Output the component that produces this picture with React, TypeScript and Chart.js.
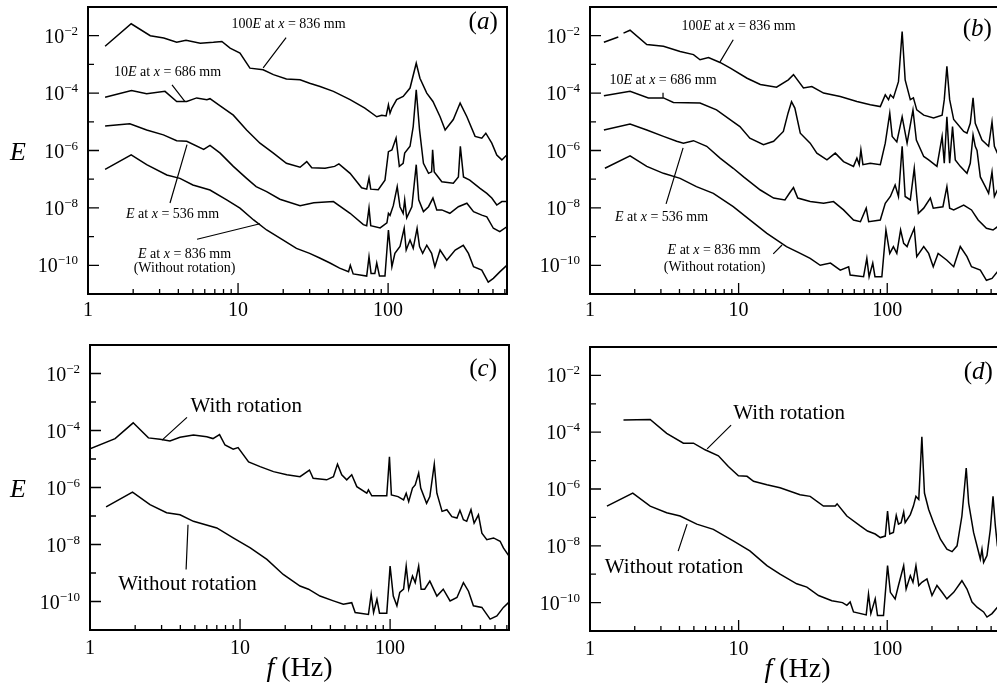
import React, { useEffect, useRef } from "react";
import { Chart, registerables } from "chart.js";

Chart.register(...registerables);

type Pt = [number, number | null];

// ---------- (a) spectra ----------
const curveA1: Pt[] = [[1.3,4.3e-3],[1.94,2.6e-2],[2.6,1e-2],[3.2,8.3e-3],[3.9,5.9e-3],[4.5,6.9e-3],[5.6,5.5e-3],[6.85,5.9e-3],[7.8,6.3e-3],[8.85,3.7e-3],[10.3,2.5e-3],[12,7.4e-4],[14.7,6.5e-4],[17.2,4.4e-4],[21,3.1e-4],[25.9,2.9e-4],[30,2.2e-4],[35.2,1.7e-4],[43.2,1.15e-4],[55.8,5.9e-5],[70,3e-5],[84,1.5e-5],[90.7,1.7e-5],[97,1.6e-5],[100.5,3.9e-5],[103,2e-5],[106,3e-5],[114,5.9e-5],[126,7.6e-5],[140,1.5e-4],[154,1.1e-3],[163,3.3e-4],[181,1e-4],[199,5.1e-5],[222,1.5e-5],[240,5.2e-6],[272,1.2e-5],[302,4.5e-5],[335,1.5e-5],[380,3.1e-6],[421,2.7e-6],[448,4e-6],[491,1.8e-6],[530,7e-7],[573,4.7e-7],[618,7e-7]];
const curveA2: Pt[] = [[1.3,7.2e-5],[1.95,1.23e-4],[2.46,9.5e-5],[3.26,1.15e-4],[3.9,5.1e-5],[4.55,5.1e-5],[5.3,6.8e-5],[6.2,5.9e-5],[6.5,6.4e-5],[7.6,3.6e-5],[9.3,1.7e-5],[11.4,5.2e-6],[14,1.8e-6],[17.2,8.1e-7],[21,3.6e-7],[25.9,2.6e-7],[28.7,4.1e-7],[31,2.5e-7],[38,2.4e-7],[44,2.8e-7],[47,3.4e-7],[55.8,1.6e-7],[66.6,5e-8],[72,4.5e-8],[74.6,1.1e-7],[76.6,4.5e-8],[86,4.3e-8],[95.3,9.3e-8],[100.5,9.1e-7],[106,1.05e-6],[113,2.7e-6],[118.8,2.8e-7],[126,3.6e-7],[129,8.1e-7],[140,1.4e-6],[147,6.8e-6],[154,1.3e-4],[162,5.2e-6],[172,3.6e-7],[186,1.6e-7],[195,1.8e-7],[198,1.05e-6],[203,1.8e-7],[228,8.1e-8],[272,7.2e-8],[294,1.2e-7],[303,1.4e-6],[318,1.2e-7],[350,9.3e-8],[410,4.8e-8],[455,3.2e-8],[491,2.2e-8],[530,1.26e-8],[573,1.66e-8],[618,1.66e-8]];
const curveA3: Pt[] = [[1.3,7.2e-6],[1.9,8.5e-6],[2.46,5.2e-6],[3.18,3.5e-6],[3.9,2.2e-6],[4.55,2.1e-6],[5.9,1.1e-6],[6.5,1.5e-6],[7.6,8.1e-7],[9.3,2.8e-7],[11.4,1.07e-7],[13.2,5.5e-8],[15.5,3.7e-8],[19,2e-8],[25.9,1.2e-8],[32,1.5e-8],[43.2,1.66e-8],[55.8,6.5e-9],[68.4,2.6e-9],[72,2.4e-9],[74.6,1e-8],[76.6,2.4e-9],[88.5,2e-9],[98.2,3e-9],[100.5,6.5e-9],[103,5.5e-9],[108.3,1.2e-8],[115,5.5e-8],[120,1.1e-8],[126,6.5e-9],[129,1.9e-8],[133,4.5e-9],[144,1.1e-8],[154,3.2e-7],[160,1.9e-8],[172,7.4e-9],[186,1.1e-8],[199,2.2e-8],[211,8.5e-9],[228,8.5e-9],[258,6.5e-9],[294,1.1e-8],[335,1.45e-8],[371,7.4e-9],[421,5.6e-9],[455,4.9e-9],[503,1.95e-9],[555,1.5e-9],[618,2.2e-9]];
const curveA4: Pt[] = [[1.3,2.2e-7],[1.94,7.1e-7],[2.46,3.2e-7],[3.35,1.4e-7],[4.1,1.07e-7],[5,6.3e-8],[6.5,4.2e-8],[8.4,1.9e-8],[10.3,9.8e-9],[12.7,3.8e-9],[15.5,1.7e-9],[20,7.6e-10],[24.5,3.9e-10],[30,2.6e-10],[35,1.8e-10],[41,1.2e-10],[47.5,8e-11],[54.5,6e-11],[56,1e-10],[58.5,5e-11],[72,4.2e-11],[74.6,2e-10],[77,5.2e-11],[81.6,5.2e-11],[84,1.2e-10],[87.6,4.2e-11],[95.3,4.2e-11],[100.5,1.7e-9],[106,8.9e-11],[111,2.6e-10],[120,4.5e-10],[128,1.95e-9],[132,3.4e-10],[140,7.6e-10],[147,3.9e-10],[156,1.95e-9],[162,4.5e-10],[170,2.6e-10],[181,5e-10],[195,2.6e-10],[205,8.9e-11],[222,3.4e-10],[246,1.5e-10],[280,3.4e-10],[317,5e-10],[343,2.6e-10],[371,8.9e-11],[421,6.8e-11],[465,2.6e-11],[503,3.5e-11],[555,5.9e-11],[618,1e-10]];

// ---------- (b) spectra ----------
const curveB1: Pt[] = [[1.24,5.9e-3],[1.55,9e-3],[1.6,null],[1.68,1.23e-2],[1.86,1.55e-2],[2.41,4.9e-3],[3.12,4.3e-3],[4.04,2.8e-3],[4.97,2.2e-3],[5.5,1.45e-3],[6.27,1.74e-3],[7.5,1.17e-3],[8.8,7.4e-4],[11.4,3.3e-4],[14,2e-4],[18,1.6e-4],[21.6,2.9e-4],[23.4,4.4e-4],[27.3,1.5e-4],[31.1,1.7e-4],[37.3,1e-4],[48.3,7.6e-5],[62.5,5.1e-5],[76.9,3.9e-5],[89.8,3.4e-5],[97,8.7e-5],[102,5.9e-5],[105,8.7e-5],[110,6.8e-5],[119,2.5e-4],[126,1.4e-2],[132,2.9e-4],[143,5.9e-5],[150,6.8e-5],[158,2.6e-5],[176,1.7e-5],[205,1.35e-5],[234,1.7e-5],[242,5.9e-5],[252,8.5e-4],[263,5.9e-5],[280,1.2e-5],[327,4.6e-6],[344,4e-6],[362,8.9e-6],[378,6.8e-5],[391,8.9e-6],[434,2.3e-6],[481,1.4e-6],[507,1e-5],[526,1.4e-6],[551,8.1e-7],[620,6e-7]];
const curveB2: Pt[] = [[1.24,8.1e-5],[1.86,1.15e-4],[2.47,6.8e-5],[3.12,6.8e-5],[3.64,4.7e-5],[5.5,4.5e-5],[7.1,2.6e-5],[9.2,1e-5],[10.2,6.8e-6],[11.9,2.7e-6],[14.7,1.6e-6],[17.2,2.1e-6],[20,4.6e-6],[21.5,2e-5],[22.7,5e-5],[23.9,3e-5],[26,4e-6],[30.3,1.8e-6],[33.6,8.1e-7],[39.3,4.7e-7],[44.7,8.1e-7],[50.8,4.1e-7],[59.3,2.8e-7],[62.5,5.4e-7],[64.8,3.2e-7],[66.5,1.05e-6],[68.6,3.2e-7],[76.9,3.6e-7],[89.8,3.2e-7],[97,1.8e-6],[104,2e-5],[108,3.1e-6],[116,2e-6],[126,1.5e-5],[136,1.8e-6],[149,2.6e-5],[157,2.3e-6],[176,6.2e-7],[190,4.7e-7],[216,2.8e-7],[234,3.1e-6],[242,3.6e-7],[252,1.5e-5],[263,3.6e-7],[275,6.8e-6],[287,4.7e-7],[310,2.8e-7],[344,1.6e-7],[362,3.6e-7],[378,3.5e-6],[391,1.4e-6],[402,1e-6],[423,1.2e-7],[457,5.5e-8],[481,3.2e-8],[507,1.8e-7],[526,2.5e-8],[551,4.2e-8],[620,3e-8]];
const curveB3: Pt[] = [[1.24,5.2e-6],[1.86,8.3e-6],[2.41,5.2e-6],[3.12,3.1e-6],[3.83,2.1e-6],[4.25,1.8e-6],[4.97,2.2e-6],[6.1,1.4e-6],[7.5,5.4e-7],[9.2,2.4e-7],[10.8,1.2e-7],[14,4.2e-8],[17.2,2.2e-8],[20.5,1.9e-8],[22.2,3.5e-8],[23.4,5.1e-8],[25,2.2e-8],[30.3,1.66e-8],[37.3,1.45e-8],[43.5,1.66e-8],[50.8,8.5e-9],[59.3,3.8e-9],[66,3.3e-9],[72.2,9.8e-9],[75,3.3e-9],[89.8,3.8e-9],[97,1.45e-8],[105,2.5e-8],[113,6.3e-8],[119,2.5e-8],[126,1.4e-6],[132,2.5e-8],[143,1.9e-8],[152,2.4e-7],[158,2.5e-8],[162,6.5e-9],[176,9.8e-9],[195,2.2e-8],[204,9.8e-9],[237,1.1e-8],[252,5.5e-8],[263,9.8e-9],[280,8.5e-9],[327,1.26e-8],[369,8.5e-9],[409,3.8e-9],[465,1.95e-9],[515,1.7e-9],[551,2.2e-9],[620,2.5e-9]];
const curveB4: Pt[] = [[1.26,2.4e-7],[1.86,6.5e-7],[2.41,2.8e-7],[3.12,1.6e-7],[4.04,1.07e-7],[5.2,5.5e-8],[6.76,3.2e-8],[9.2,1.1e-8],[11.9,3.8e-9],[15.5,1.3e-9],[21,4.5e-10],[26,2.6e-10],[30.3,1.74e-10],[35.4,1e-10],[41.5,1.2e-10],[48.3,6.8e-11],[55,8.9e-11],[56.3,4.6e-11],[69.3,4e-11],[72.9,1.74e-10],[75.5,4e-11],[79.9,1.2e-10],[82.7,4e-11],[92,4e-11],[98,1.7e-9],[104,2.6e-10],[110,4.5e-10],[116,2.6e-10],[123,1.7e-9],[129,5.8e-10],[136,4.5e-10],[141,7.6e-10],[152,1.95e-9],[158,2e-10],[176,4.5e-10],[190,2.6e-10],[204,8.9e-11],[220,2.6e-10],[252,1.5e-10],[280,8.9e-11],[310,4.5e-10],[344,2e-10],[369,8.9e-11],[423,6.8e-11],[465,3e-11],[507,3.5e-11],[551,5.9e-11],[620,9e-11]];

// ---------- (c) spectra ----------
const curveC1: Pt[] = [[1,2.3e-5],[1.47,5.2e-5],[1.94,1.86e-4],[2.45,5.5e-5],[2.93,4.9e-5],[3.41,4.3e-5],[3.98,5.8e-5],[4.89,6.9e-5],[6,6e-5],[6.6,5.2e-5],[7.3,7.2e-5],[7.94,3.1e-5],[9,2.2e-5],[9.7,2.5e-5],[11.4,7.9e-6],[13.6,5.4e-6],[16.7,3.6e-6],[20.5,2.8e-6],[25.1,2.4e-6],[29,4.1e-6],[30.7,2.1e-6],[37.8,1.86e-6],[41.9,2.4e-6],[44.6,6.6e-6],[47.6,2.8e-6],[51.4,1.86e-6],[55.5,2.8e-6],[60,1.07e-6],[69.9,6.3e-7],[71.7,8.3e-7],[75.5,5.1e-7],[95,5.1e-7],[99,1.2e-5],[102,5.5e-7],[113,4.8e-7],[123,3.7e-7],[128,6.3e-7],[133,3.2e-7],[141,9.5e-7],[147,1.23e-6],[155,3.2e-6],[160,9.5e-7],[175,2.8e-7],[184,4.8e-7],[197,6.6e-6],[205,6.3e-7],[222,1.45e-7],[239,1.66e-7],[258,9.5e-8],[279,8.5e-8],[292,1.58e-7],[308,7.4e-8],[324,6.5e-8],[346,1.66e-7],[363,5.6e-8],[388,1.1e-7],[409,2.5e-8],[441,1.48e-8],[489,1.7e-8],[541,1.3e-8],[569,7.6e-9],[620,3.9e-9]];
const curveC2: Pt[] = [[1.28,2.1e-7],[1.92,6.9e-7],[2.51,2.5e-7],[3.24,1.3e-7],[3.98,1.1e-7],[4.89,6.5e-8],[7,3.8e-8],[9,1.7e-8],[11.7,7.6e-9],[15.1,3e-9],[19.4,8.9e-10],[25.1,3.5e-10],[28.6,2.7e-10],[34.1,1.55e-10],[41.9,1.05e-10],[48.8,8e-11],[55.5,9.1e-11],[58.5,4.1e-11],[71.7,3.5e-11],[74.8,1.8e-10],[77.6,4.1e-11],[81.7,1.2e-10],[85,3.9e-11],[95,3.9e-11],[100,1.74e-9],[105,1.55e-10],[111,7.1e-11],[116,2.1e-10],[123,2.7e-10],[128,1.74e-9],[133,2.7e-10],[141,7.8e-10],[147,4.6e-10],[155,1.74e-9],[161,2.7e-10],[170,2.7e-10],[184,5.2e-10],[205,1.55e-10],[226,2.7e-10],[251,1.05e-10],[279,1.38e-10],[308,4.6e-10],[333,2.3e-10],[359,7.1e-11],[409,6.2e-11],[464,2.4e-11],[515,3.1e-11],[569,6.2e-11],[615,9.1e-11]];

// ---------- (d) spectra ----------
const curveD1: Pt[] = [[1.68,2.7e-4],[2.54,2.8e-4],[3.28,9.1e-5],[4.25,4.1e-5],[4.97,4.1e-5],[5.95,2.4e-5],[7.31,1.48e-5],[8.53,6.2e-6],[9.97,2.9e-6],[11.4,2.8e-6],[12.6,1.86e-6],[15.5,1.4e-6],[19,1.1e-6],[25.9,6.3e-7],[30.3,5.5e-7],[37.2,2.5e-7],[44.7,2.5e-7],[46,3e-7],[53.5,1.12e-7],[65.8,5e-8],[73.7,3.3e-8],[83,2.6e-8],[89.8,1.95e-8],[97,2.2e-8],[100.5,1.66e-7],[104,2.6e-8],[110,2.95e-8],[115,1.17e-7],[119,5.8e-8],[124,6.5e-8],[129,1.55e-7],[132,6.5e-8],[143,1.26e-7],[150,2.5e-7],[156,5.5e-7],[163,4.3e-7],[171,6.9e-5],[178,7.2e-7],[190,1.9e-7],[205,6.5e-8],[228,1.7e-8],[252,7.6e-9],[273,6.2e-9],[295,1e-8],[318,1.12e-7],[340,5.5e-6],[353,3.2e-7],[381,2.95e-8],[412,5.9e-9],[423,3.4e-9],[434,7.6e-9],[445,2.6e-9],[469,4.5e-9],[494,3.8e-8],[515,5.5e-7],[534,5e-8],[551,1e-8],[600,3e-9]];
const curveD2: Pt[] = [[1.3,2.5e-7],[1.94,7.2e-7],[2.54,2.5e-7],[3.28,1.45e-7],[4.04,1.12e-7],[5.23,5.8e-8],[6.76,3.8e-8],[9.2,1.48e-8],[11.9,6.6e-9],[15.5,2e-9],[19,1e-9],[24.6,4.6e-10],[28.8,3.5e-10],[34.5,1.78e-10],[42.4,1.17e-10],[50,1e-10],[53.5,8e-11],[56.3,1.05e-10],[59.3,4.7e-11],[72.2,3.7e-11],[74.8,2e-10],[77.6,4.1e-11],[83,1.35e-10],[86,3.5e-11],[94.4,3.5e-11],[100.5,2e-9],[105,2.3e-10],[113,1.35e-10],[119,4e-10],[129,2e-9],[134,3e-10],[143,8.9e-10],[149,5.2e-10],[156,2e-9],[163,4e-10],[171,5.2e-10],[185,6.8e-10],[200,1.78e-10],[216,4e-10],[234,2.3e-10],[252,1.35e-10],[280,2.3e-10],[318,5.9e-10],[344,3e-10],[372,1.05e-10],[402,6.9e-11],[445,4.7e-11],[469,3.1e-11],[507,4.1e-11],[551,6.9e-11],[600,1e-10]];

// ---------- axes ----------
const xTickValues = [1,2,3,4,5,6,7,8,9,10,20,30,40,50,60,70,80,90,100,200,300,400,500,600];
const xLabelValues = [1, 10, 100];
const yTickValues = [1e-1,1e-2,1e-3,1e-4,1e-5,1e-6,1e-7,1e-8,1e-9,1e-10,1e-11];
const yLabelValues = [1e-2, 1e-4, 1e-6, 1e-8, 1e-10];
const yLabelExponents = ["\u22122", "\u22124", "\u22126", "\u22128", "\u221210"];
const X_MIN = 1, X_MAX = 620, Y_MIN = 1e-11, Y_MAX = 1e-1;

const FONT = "'Liberation Serif', 'Times New Roman', Times, serif";

type Seg = { t: string; it?: boolean };
type Note = { f: number; e: number; size: number; segs: Seg[] };
type Leader = [number, number, number, number];

const lab = (pre: string, x: string): Seg[] => [
  ...(pre ? [{ t: pre }] : []),
  { t: "E", it: true }, { t: " at " }, { t: "x", it: true }, { t: ` = ${x} mm` },
];

const notesA: Note[] = [
  { f: 21.7, e: 2.4e-2, size: 14, segs: lab("100", "836") },
  { f: 3.39, e: 5.5e-4, size: 14, segs: lab("10", "686") },
  { f: 3.66, e: 6.2e-9, size: 14, segs: lab("", "536") },
  { f: 4.4, e: 2.5e-10, size: 14, segs: lab("", "836") },
  { f: 4.4, e: 8e-11, size: 14, segs: [{ t: "(Without rotation)" }] },
];
const leadersA: Leader[] = [[20.9,8.5e-3,14.7,7.6e-4],[3.63,1.95e-4,4.43,5e-5],[3.52,1.48e-8,4.57,1.6e-6],[5.33,8.1e-10,14,2.8e-9]];

const notesB: Note[] = [
  { f: 10, e: 2.2e-2, size: 14, segs: lab("100", "836") },
  { f: 3.1, e: 2.9e-4, size: 14, segs: lab("10", "686") },
  { f: 3.03, e: 4.8e-9, size: 14, segs: lab("", "536") },
  { f: 6.84, e: 3.4e-10, size: 14, segs: lab("", "836") },
  { f: 6.9, e: 8.7e-11, size: 14, segs: [{ t: "(Without rotation)" }] },
];
const leadersB: Leader[] = [[9.2,7.2e-3,7.5,1.23e-3],[3.1,1.02e-4,3.1,6.9e-5],[3.25,1.38e-8,4.23,1.23e-6],[17.1,2.5e-10,19.6,5.1e-10]];

const notesC: Note[] = [
  { f: 11, e: 7.1e-4, size: 21, segs: [{ t: "With rotation" }] },
  { f: 4.47, e: 4e-10, size: 21, segs: [{ t: "Without rotation" }] },
];
const leadersC: Leader[] = [[4.43,2.9e-4,3.02,4.6e-5],[4.5,4.9e-8,4.37,1.32e-9]];

const notesD: Note[] = [
  { f: 21.9, e: 4.7e-4, size: 21, segs: [{ t: "With rotation" }] },
  { f: 3.68, e: 1.78e-9, size: 21, segs: [{ t: "Without rotation" }] },
];
const leadersD: Leader[] = [[8.9,1.78e-4,6.14,2.6e-5],[4.5,5.8e-8,3.92,6.5e-9]];

type Panel = {
  box: { left: number; top: number; width: number; height: number };
  padTop: number; padRight: number; yWidth: number; xHeight: number; xPad: number;
  curves: Pt[][]; notes: Note[]; leaders: Leader[];
  letter: { f: number; e: number; t: string };
  xTitle: boolean; yTitle: boolean;
};

const panels: Panel[] = [
  { box: { left: 0, top: 0, width: 520, height: 335 }, padTop: 7, padRight: 13, yWidth: 88, xHeight: 41, xPad: 5,
    curves: [curveA1, curveA2, curveA3, curveA4], notes: notesA, leaders: leadersA, letter: { f: 430, e: 2.8e-2, t: "a" }, xTitle: false, yTitle: true },
  { box: { left: 500, top: 0, width: 520, height: 335 }, padTop: 7, padRight: 15, yWidth: 90, xHeight: 41, xPad: 5,
    curves: [curveB1, curveB2, curveB3, curveB4], notes: notesB, leaders: leadersB, letter: { f: 404, e: 1.6e-2, t: "b" }, xTitle: false, yTitle: false },
  { box: { left: 0, top: 335, width: 520, height: 352 }, padTop: 10, padRight: 11, yWidth: 90, xHeight: 57, xPad: 7,
    curves: [curveC1, curveC2], notes: notesC, leaders: leadersC, letter: { f: 417, e: 1.38e-2, t: "c" }, xTitle: true, yTitle: true },
  { box: { left: 500, top: 335, width: 520, height: 352 }, padTop: 12, padRight: 15, yWidth: 90, xHeight: 56, xPad: 7,
    curves: [curveD1, curveD2], notes: notesD, leaders: leadersD, letter: { f: 410, e: 1.26e-2, t: "d" }, xTitle: true, yTitle: false },
];

function drawRich(ctx: CanvasRenderingContext2D, cx: number, cy: number, segs: Seg[], size: number) {
  const widths: number[] = [];
  let total = 0;
  for (const s of segs) {
    ctx.font = `${s.it ? "italic " : ""}${size}px ${FONT}`;
    const w = ctx.measureText(s.t).width;
    widths.push(w);
    total += w;
  }
  let x = cx - total / 2;
  ctx.textAlign = "left";
  ctx.textBaseline = "middle";
  segs.forEach((s, i) => {
    ctx.font = `${s.it ? "italic " : ""}${size}px ${FONT}`;
    ctx.fillText(s.t, x, cy);
    x += widths[i];
  });
}

function makeDecor(p: Panel) {
  return {
    id: "decor",
    afterDraw(chart: any) {
      const { ctx, chartArea: ca, scales } = chart;
      const xs = scales.x, ys = scales.y;
      ctx.save();
      ctx.strokeStyle = "#000";
      ctx.fillStyle = "#000";
      // frame
      ctx.lineWidth = 2;
      ctx.strokeRect(ca.left, ca.top, ca.right - ca.left, ca.bottom - ca.top);
      // inward ticks
      ctx.lineWidth = 1.3;
      ctx.beginPath();
      for (const v of xTickValues) {
        const px = xs.getPixelForValue(v);
        const L = xLabelValues.includes(v) ? 11 : 5;
        ctx.moveTo(px, ca.bottom);
        ctx.lineTo(px, ca.bottom - L);
      }
      for (const v of yTickValues) {
        const py = ys.getPixelForValue(v);
        const L = yLabelValues.includes(v) ? 11 : 6;
        ctx.moveTo(ca.left, py);
        ctx.lineTo(ca.left + L, py);
      }
      ctx.stroke();
      // y tick labels with superscripts
      yLabelValues.forEach((v, i) => {
        const py = ys.getPixelForValue(v);
        const right = ca.left - 10;
        ctx.textAlign = "left";
        ctx.textBaseline = "alphabetic";
        ctx.font = `13px ${FONT}`;
        const ws = ctx.measureText(yLabelExponents[i]).width;
        ctx.font = `20px ${FONT}`;
        const wb = ctx.measureText("10").width;
        ctx.fillText("10", right - ws - wb, py + 7);
        ctx.font = `13px ${FONT}`;
        ctx.fillText(yLabelExponents[i], right - ws, py - 1);
      });
      // y title
      if (p.yTitle) {
        drawRich(ctx, 18, ys.getPixelForValue(1e-6) + 3, [{ t: "E", it: true }], 26);
      }
      // x title
      if (p.xTitle) {
        drawRich(ctx, (ca.left + ca.right) / 2, ca.bottom + 39, [{ t: "f", it: true }, { t: " (Hz)" }], 28);
      }
      // leader lines
      ctx.lineWidth = 1.2;
      ctx.beginPath();
      for (const [f1, e1, f2, e2] of p.leaders) {
        ctx.moveTo(xs.getPixelForValue(f1), ys.getPixelForValue(e1));
        ctx.lineTo(xs.getPixelForValue(f2), ys.getPixelForValue(e2));
      }
      ctx.stroke();
      // notes
      for (const n of p.notes) {
        drawRich(ctx, xs.getPixelForValue(n.f), ys.getPixelForValue(n.e), n.segs, n.size);
      }
      // panel letter
      drawRich(ctx, xs.getPixelForValue(p.letter.f), ys.getPixelForValue(p.letter.e),
        [{ t: "(" }, { t: p.letter.t, it: true }, { t: ")" }], 25);
      ctx.restore();
    },
  };
}

function buildConfig(p: Panel): any {
  return {
    type: "line",
    data: {
      datasets: p.curves.map((c) => ({
        data: c.map(([f, e]) => ({ x: f, y: e })),
        borderColor: "#000",
        borderWidth: 1.5,
        pointRadius: 0,
        tension: 0,
        fill: false,
        spanGaps: false,
      })),
    },
    options: {
      responsive: false,
      maintainAspectRatio: false,
      animation: false,
      devicePixelRatio: 1,
      events: [],
      layout: { padding: { top: p.padTop, right: p.padRight, left: 0, bottom: 0 } },
      plugins: { legend: { display: false }, tooltip: { enabled: false } },
      scales: {
        x: {
          type: "logarithmic",
          min: X_MIN,
          max: X_MAX,
          grid: { display: false, drawTicks: false },
          border: { display: false },
          afterBuildTicks: (ax: any) => { ax.ticks = xTickValues.map((v) => ({ value: v })); },
          afterFit: (ax: any) => { ax.height = p.xHeight; },
          ticks: {
            autoSkip: false,
            maxRotation: 0,
            minRotation: 0,
            padding: p.xPad,
            color: "#000",
            font: { family: FONT, size: 20 },
            callback: (v: any) => (xLabelValues.includes(Number(v)) ? String(v) : ""),
          },
        },
        y: {
          type: "logarithmic",
          min: Y_MIN,
          max: Y_MAX,
          grid: { display: false, drawTicks: false },
          border: { display: false },
          ticks: { display: false },
          afterFit: (ax: any) => { ax.width = p.yWidth; },
        },
      },
    },
    plugins: [makeDecor(p)],
  };
}

export default function App() {
  const refs = useRef<(HTMLCanvasElement | null)[]>([]);
  useEffect(() => {
    const charts = panels.map((p, i) => new Chart(refs.current[i] as HTMLCanvasElement, buildConfig(p)));
    return () => charts.forEach((c) => c.destroy());
  }, []);
  return (
    <div style={{ position: "absolute", left: 0, top: 0, width: 997, height: 687, overflow: "hidden", background: "#fff" }}>
      {panels.map((p, i) => (
        <canvas
          key={i}
          ref={(el) => { refs.current[i] = el; }}
          width={p.box.width}
          height={p.box.height}
          style={{ position: "absolute", left: p.box.left, top: p.box.top, width: p.box.width, height: p.box.height }}
        />
      ))}
    </div>
  );
}
